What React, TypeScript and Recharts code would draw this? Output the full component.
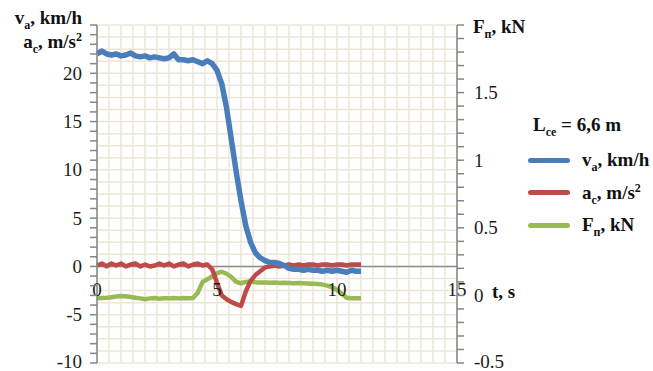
import React from 'react';
import { ComposedChart, Line, XAxis, YAxis, CartesianGrid, ReferenceLine } from 'recharts';

// time, s (step 0.2)
const time = [
  0, 0.2, 0.4, 0.6, 0.8, 1.0, 1.2, 1.4, 1.6, 1.8, 2.0, 2.2, 2.4, 2.6, 2.8, 3.0, 3.2, 3.4, 3.6, 3.8,
  4.0, 4.2, 4.4, 4.6, 4.8, 5.0, 5.2, 5.4, 5.6, 5.8, 6.0, 6.2, 6.4, 6.6, 6.8, 7.0, 7.2, 7.4, 7.6, 7.8,
  8.0, 8.2, 8.4, 8.6, 8.8, 9.0, 9.2, 9.4, 9.6, 9.8, 10.0, 10.2, 10.4, 10.6, 10.8, 11.0,
];

// v_a, km/h (left axis)
const speed = [
  22.0, 22.3, 22.0, 21.9, 22.0, 21.8, 21.9, 22.1, 21.8, 21.7, 21.8, 21.6, 21.7, 21.6, 21.5, 21.6, 22.0, 21.4, 21.4, 21.3,
  21.4, 21.2, 21.0, 21.3, 21.0, 20.3, 18.9, 16.4, 13.1, 9.8, 6.8, 4.2, 2.5, 1.4, 0.9, 0.6, 0.4, 0.4, 0.3, 0.1,
  -0.2, -0.3, -0.3, -0.4, -0.3, -0.4, -0.4, -0.5, -0.4, -0.5, -0.4, -0.5, -0.6, -0.4, -0.5, -0.5,
];

// a_c, m/s2 (left axis)
const accel = [
  0.1, 0.3, 0.0, 0.3, 0.1, 0.3, 0.0, 0.2, 0.3, 0.0, 0.2, 0.0, 0.1, 0.3, 0.1, 0.3, 0.0, 0.2, 0.3, 0.0,
  0.2, 0.3, 0.1, 0.2, -0.3, -1.7, -3.0, -3.4, -3.7, -3.9, -4.1, -2.6, -1.5, -0.9, -0.5, -0.1, 0.0, 0.1, 0.0, 0.1,
  0.2, 0.1, 0.2, 0.1, 0.2, 0.2, 0.1, 0.2, 0.2, 0.1, 0.2, 0.2, 0.1, 0.2, 0.2, 0.2,
];

// F_п, kN (right axis)
const force = [
  -0.022, -0.02, -0.018, -0.014, -0.008, -0.004, -0.006, -0.012, -0.018, -0.022, -0.028, -0.022, -0.02, -0.024, -0.021, -0.022, -0.02, -0.022, -0.019, -0.021,
  -0.019, 0.02, 0.1, 0.12, 0.14, 0.165, 0.175, 0.16, 0.135, 0.1, 0.09, 0.1, 0.102, 0.098, 0.096, 0.095, 0.093, 0.095, 0.092, 0.093,
  0.092, 0.09, 0.091, 0.089, 0.088, 0.086, 0.084, 0.08, 0.072, 0.06, 0.04, 0.012, -0.018, -0.022, -0.022, -0.022,
];

const xDomain = [0, 15];
const leftDomain = [-10, 25];
const rightDomain = [-0.5, 2];
const xTicks = [0, 5, 10, 15];
const leftLabels = [-10, -5, 0, 5, 10, 15, 20];
const rightLabels = [-0.5, 0, 0.5, 1, 1.5];

const range = (from: number, to: number, step: number) => {
  const out: number[] = [];
  for (let i = 0; from + i * step <= to + 1e-9; i++) out.push(Math.round((from + i * step) * 1000) / 1000);
  return out;
};

// minor ticks and grid
const leftTicks = range(-10, 25, 1);
const rightTicks = range(-0.5, 2, 0.1);
const gridT = range(0, 15, 0.5);
const gridV = range(-10, 25, 1.25);

const data = time.map((t, i) => ({ t, v: speed[i], a: accel[i], f: force[i] }));

const FONT = 'Liberation Serif';
const TEXT = '#1c1c1c';
const AXIS = '#868686';
const BLUE = '#4a7ebb';
const RED = '#be4b48';
const GREEN = '#98b954';

const LeftTick = ({ x, y, payload }: any) => {
  const v = payload.value;
  return (
    <g>
      <line x1={x - 7} x2={x} y1={y} y2={y} stroke={AXIS} strokeWidth={1.5} />
      {leftLabels.includes(v) && (
        <text x={x - 15} y={v === -10 ? y - 2 : y} textAnchor="end" dominantBaseline="central" fontFamily={FONT} fontSize={19} fill={TEXT}>
          {v}
        </text>
      )}
    </g>
  );
};

const RightTick = ({ x, y, payload }: any) => {
  const v = payload.value;
  return (
    <g>
      <line x1={x} x2={x + 7} y1={y} y2={y} stroke={AXIS} strokeWidth={1.5} />
      {rightLabels.includes(v) && (
        <text x={x + 17} y={v === -0.5 ? y - 2 : y} textAnchor="start" dominantBaseline="central" fontFamily={FONT} fontSize={19} fill={TEXT}>
          {v}
        </text>
      )}
    </g>
  );
};

// x labels sit under the zero line of the left axis
const BottomTick = ({ x, y, payload }: any) => (
  <text x={x} y={y - 74} textAnchor="middle" dominantBaseline="central" fontFamily={FONT} fontSize={19} fill={TEXT}>
    {payload.value}
  </text>
);

// grid lines on a 0.5 s x 1.25 unit mesh, mapped with the plot offset
const gridX = ({ offset }: any) =>
  gridT.map((t) => offset.left + ((t - xDomain[0]) / (xDomain[1] - xDomain[0])) * offset.width);
const gridY = ({ offset }: any) =>
  gridV.map((v) => offset.top + ((leftDomain[1] - v) / (leftDomain[1] - leftDomain[0])) * offset.height);

const title: React.CSSProperties = {
  position: 'absolute',
  fontFamily: FONT,
  fontWeight: 'bold',
  fontSize: 19,
  lineHeight: '24px',
  color: '#111',
  whiteSpace: 'nowrap',
};

const sub: React.CSSProperties = { fontSize: 12, verticalAlign: 'sub', lineHeight: 0 };
const sup: React.CSSProperties = { fontSize: 12, verticalAlign: 'super', lineHeight: 0 };

const legendItems = [
  { color: BLUE, label: <>v<span style={sub}>a</span>, km/h</> },
  { color: RED, label: <>a<span style={sub}>c</span>, m/s<span style={sup}>2</span></> },
  { color: GREEN, label: <>F<span style={sub}>п</span>, kN</> },
];

export default function App() {
  return (
    <div style={{ position: 'absolute', left: 0, top: 0, width: 653, height: 371, background: '#fff' }}>
      <ComposedChart width={653} height={371} data={data} margin={{ top: 25, right: 116, bottom: 7, left: 0 }}>
        <CartesianGrid
          xAxisId="x"
          yAxisId="l"
          stroke="#ebe6d8"
          strokeWidth={1.5}
          verticalCoordinatesGenerator={gridX}
          horizontalCoordinatesGenerator={gridY}
        />
        <XAxis
          xAxisId="x"
          dataKey="t"
          type="number"
          domain={xDomain}
          ticks={xTicks}
          interval={0}
          height={1}
          axisLine={false}
          tickLine={false}
          tickSize={0}
          tickMargin={0}
          tick={<BottomTick />}
        />
        <YAxis
          yAxisId="l"
          width={97}
          domain={leftDomain}
          ticks={leftTicks}
          interval={0}
          axisLine={{ stroke: AXIS, strokeWidth: 1.5 }}
          tickLine={false}
          tickSize={0}
          tickMargin={0}
          tick={<LeftTick />}
        />
        <YAxis
          yAxisId="r"
          orientation="right"
          width={80}
          domain={rightDomain}
          ticks={rightTicks}
          interval={0}
          axisLine={{ stroke: AXIS, strokeWidth: 1.5 }}
          tickLine={false}
          tickSize={0}
          tickMargin={0}
          tick={<RightTick />}
        />
        <ReferenceLine xAxisId="x" yAxisId="l" y={0} stroke="#8c8c8c" strokeWidth={1.5} />
        <Line xAxisId="x" yAxisId="r" dataKey="f" stroke={GREEN} strokeWidth={4.5} dot={false} isAnimationActive={false} strokeLinejoin="round" />
        <Line xAxisId="x" yAxisId="l" dataKey="a" stroke={RED} strokeWidth={4.5} dot={false} isAnimationActive={false} strokeLinejoin="round" />
        <Line xAxisId="x" yAxisId="l" dataKey="v" stroke={BLUE} strokeWidth={5.5} dot={false} isAnimationActive={false} strokeLinejoin="round" />
      </ComposedChart>

      <div style={{ ...title, right: 571, top: 6 }}>
        v<span style={sub}>a</span>, km/h
      </div>
      <div style={{ ...title, right: 571, top: 30 }}>
        a<span style={sub}>c</span>, m/s<span style={sup}>2</span>
      </div>
      <div style={{ ...title, left: 473, top: 15 }}>
        F<span style={sub}>п</span>, kN
      </div>
      <div style={{ ...title, left: 492, top: 280 }}>t, s</div>

      <div style={{ ...title, left: 533, top: 113 }}>
        L<span style={sub}>ce</span> = 6,6 m
      </div>
      {legendItems.map((item, i) => (
        <div key={i} style={{ position: 'absolute', left: 528, top: 148 + i * 32.5, display: 'flex', alignItems: 'center' }}>
          <div style={{ width: 42, height: 5, borderRadius: 2.5, background: item.color }} />
          <div style={{ ...title, position: 'static', marginLeft: 12 }}>{item.label}</div>
        </div>
      ))}
    </div>
  );
}
